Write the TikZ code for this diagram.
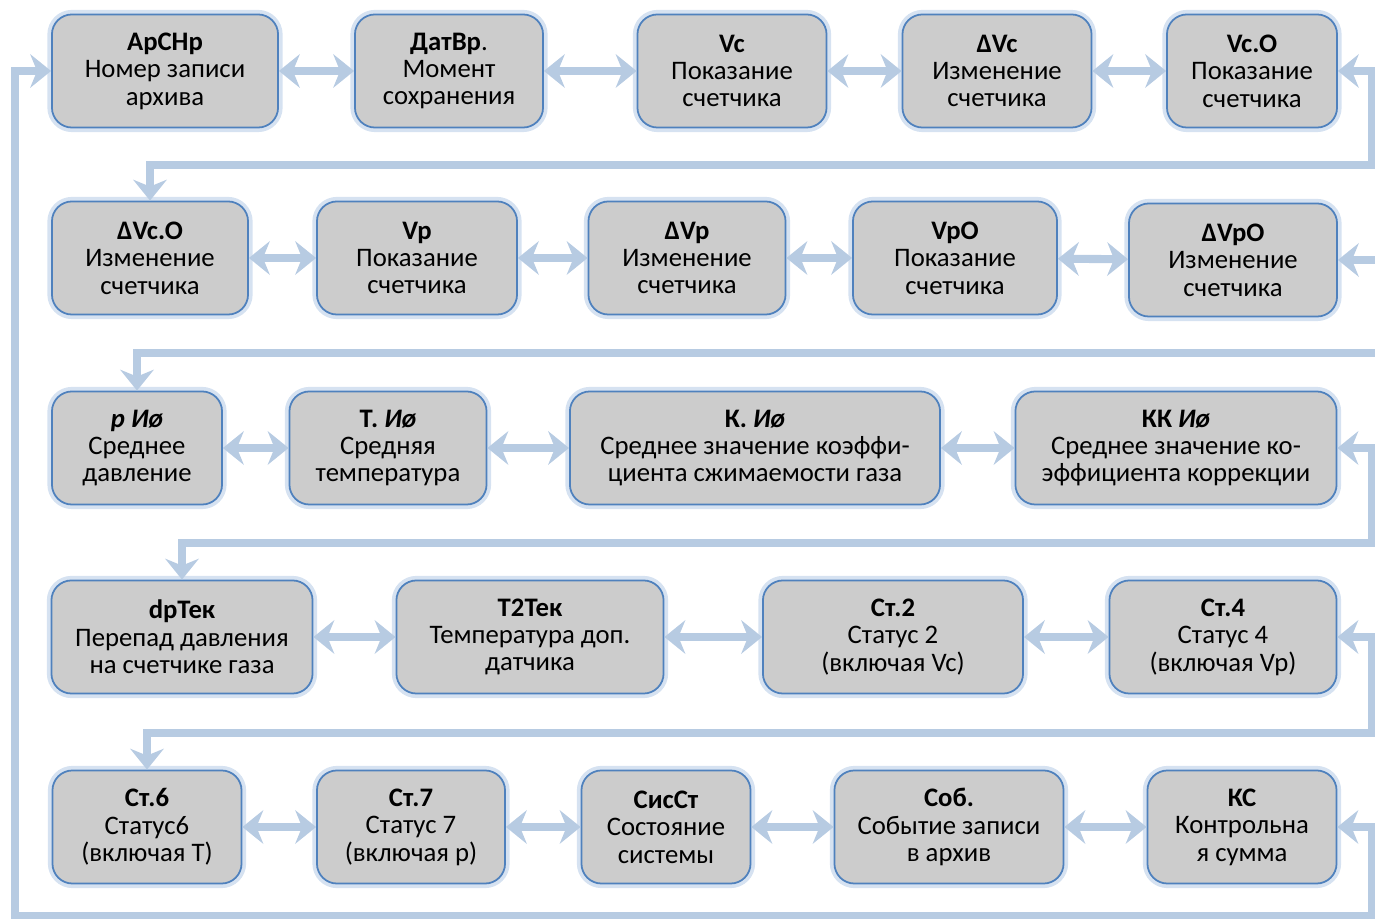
\documentclass[tikz,border=0pt]{standalone}
\usepackage{fontspec}
\setmainfont{Carlito}
\usetikzlibrary{arrows.meta}
\definecolor{boxgray}{HTML}{CCCCCC}
\definecolor{boxline}{HTML}{4F81BD}
\definecolor{glowblue}{HTML}{D6E2F1}
\definecolor{linkblue}{HTML}{B7CBE2}

\begin{document}
\begin{tikzpicture}[x=0.01cm, y=-0.01cm,
		blk/.style={draw=boxline, line width=0.5pt, fill=boxgray, rounded corners=0.2cm,
			minimum height=1.13cm, inner sep=0pt, align=center,
			font=\fontsize{7.6}{7.8}\selectfont,
			preaction={draw=glowblue, line width=2.6pt}},
		tip/.tip={Stealth[length=0.21cm, width=0.34cm, inset=0.07cm, line width=0pt]},
		link/.style={draw=linkblue, line width=2.3pt, tip-tip}]

		\useasboundingbox (0,0) rectangle (1375,919);

		% Row 1
		\node[blk, minimum width=2.26cm] (archp) at (165,71) {\textbf{АрСНр}\\Номер записи\\архива};
		\node[blk, minimum width=1.88cm] (datvr) at (449,71) {\textbf{ДатВр}.\\Момент\\сохранения};
		\node[blk, minimum width=1.89cm] (vc) at (732,71) {\textbf{Vc}\\Показание\\счетчика};
		\node[blk, minimum width=1.89cm] (dvc) at (997,71) {\textbf{ΔVc}\\Изменение\\счетчика};
		\node[blk, minimum width=1.70cm] (vco) at (1252,71) {\textbf{Vc.O}\\Показание\\счетчика};

		% Row 2
		\node[blk, minimum width=1.96cm] (dvco) at (150,258) {\textbf{ΔVc.O}\\Изменение\\счетчика};
		\node[blk, minimum width=2.00cm] (vp) at (417,258) {\textbf{Vp}\\Показание\\счетчика};
		\node[blk, minimum width=1.97cm] (dvp) at (687,258) {\textbf{ΔVp}\\Изменение\\счетчика};
		\node[blk, minimum width=2.04cm] (vpo) at (955,258) {\textbf{VpO}\\Показание\\счетчика};
		\node[blk, minimum width=2.08cm] (dvpo) at (1233,260) {\textbf{ΔVpO}\\Изменение\\счетчика};

		% Row 3
		\node[blk, minimum width=1.70cm] (pavg) at (137,448) {\textbf{\textit{р} \textit{Иø}}\\Среднее\\давление};
		\node[blk, minimum width=1.97cm] (tavg) at (388,448) {\textbf{Т. \textit{Иø}}\\Средняя\\температура};
		\node[blk, minimum width=3.70cm] (kavg) at (755,448) {\textbf{К. \textit{Иø}}\\Среднее значение коэффи-\\циента сжимаемости газа};
		\node[blk, minimum width=3.21cm] (kkavg) at (1176,448) {\textbf{КК \textit{Иø}}\\Среднее значение ко-\\эффициента коррекции};

		% Row 4
		\node[blk, minimum width=2.61cm] (dptek) at (182,637) {\textbf{dpТек}\\Перепад давления\\на счетчике газа};
		\node[blk, minimum width=2.67cm] (ttek) at (530,637) {\textbf{Т2Тек}\\Температура доп.\\датчика};
		\node[blk, minimum width=2.60cm] (st2) at (893,637) {\textbf{Ст.2}\\Статус 2\\(включая Vc)};
		\node[blk, minimum width=2.27cm] (st4) at (1223,637) {\textbf{Ст.4}\\Статус 4\\(включая Vp)};

		% Row 5
		\node[blk, minimum width=1.89cm] (st6) at (147,827) {\textbf{Ст.6}\\Статус6\\(включая Т)};
		\node[blk, minimum width=1.88cm] (st7) at (411,827) {\textbf{Ст.7}\\Статус 7\\(включая р)};
		\node[blk, minimum width=1.69cm] (sysst) at (666,827) {\textbf{СисСт}\\Состояние\\системы};
		\node[blk, minimum width=2.29cm] (sob) at (949,827) {\textbf{Соб.}\\Событие записи\\в архив};
		\node[blk, minimum width=1.89cm] (ks) at (1242,827) {\textbf{КС}\\Контрольна\\я сумма};

		% Links inside the rows
		\foreach \a/\b in {archp/datvr, datvr/vc, vc/dvc, dvc/vco,
				dvco/vp, vp/dvp, dvp/vpo, vpo/dvpo,
				pavg/tavg, tavg/kavg, kavg/kkavg,
				dptek/ttek, ttek/st2, st2/st4,
				st6/st7, st7/sysst, sysst/sob, sob/ks}
			\draw[link] (\a) -- (\b);

		% Links between the rows
		\draw[link] (vco.east) -- (1372,71) |- (150,165) -- (dvco.north);
		\draw[link] (dvpo.east) -- (1382,260) |- (137,353) -- (pavg.north);
		\draw[link] (kkavg.east) -- (1372,448) |- (182,543) -- (dptek.north);
		\draw[link] (st4.east) -- (1372,637) |- (147,733) -- (st6.north);

		% Back to the first record
		\draw[link] (ks.east) -- (1372,827) |- (15,916) |- (archp.west);

	\end{tikzpicture}
\end{document}
